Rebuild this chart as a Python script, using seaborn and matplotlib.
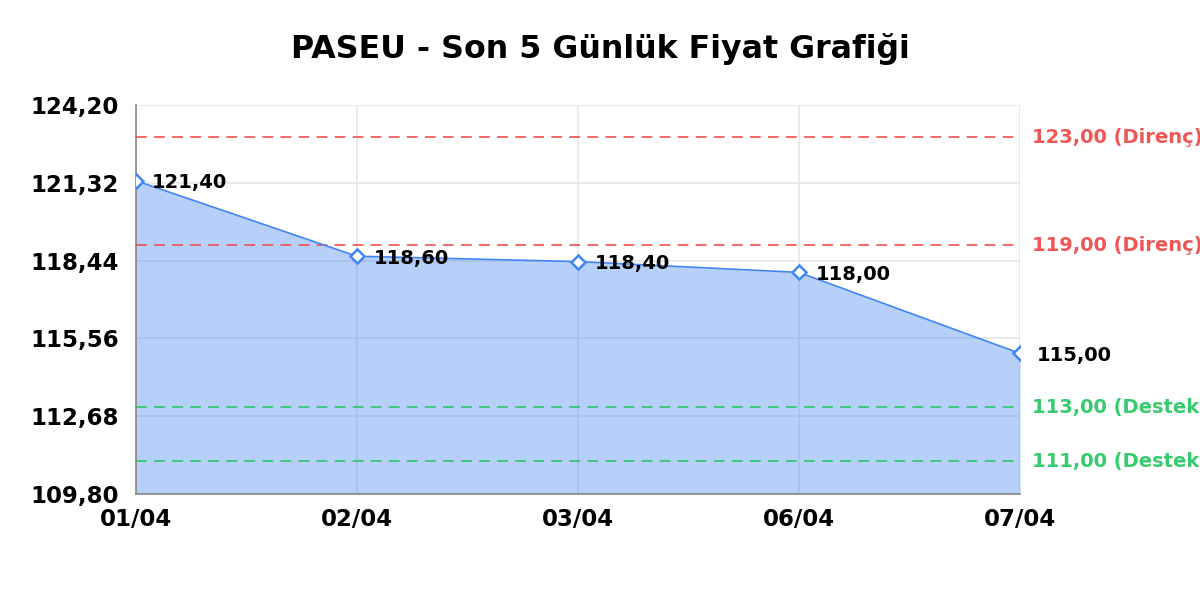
import matplotlib
matplotlib.use('Agg')
import matplotlib.pyplot as plt
import seaborn as sns
import pandas as pd

# Data
dates = ['01/04', '02/04', '03/04', '06/04', '07/04']
prices = [121.40, 118.60, 118.40, 118.00, 115.00]
y_ticks = [109.80, 112.68, 115.56, 118.44, 121.32, 124.20]
resistance = [123.00, 119.00]
support = [113.00, 111.00]

df = pd.DataFrame({'pos': range(len(dates)), 'price': prices})

sns.set_style('white')
plt.rcParams['font.family'] = ['DejaVu Sans']
plt.rcParams['text.color'] = 'black'
plt.rcParams['xtick.color'] = 'black'
plt.rcParams['ytick.color'] = 'black'

fig = plt.figure(figsize=(12, 6), dpi=100)
ax = fig.add_axes([0.113, 0.177, 0.737, 0.648])

blue = '#4285f4'
ax.fill_between(df['pos'], df['price'], y_ticks[0], color=blue, alpha=0.38, linewidth=0, zorder=2)
sns.lineplot(data=df, x='pos', y='price', ax=ax, color=blue, linewidth=1.2,
             marker='D', markersize=7, markerfacecolor='white',
             markeredgecolor=blue, markeredgewidth=1.8, zorder=4)

# value labels
for x, y in zip(df['pos'], df['price']):
    ax.annotate(f'{y:.2f}'.replace('.', ','), (x, y), xytext=(12, -1.5),
                textcoords='offset points', va='center', ha='left',
                fontsize=14, fontweight='bold', color='black', zorder=5)

# resistance / support lines
for lvl in resistance:
    ax.axhline(lvl, color='#ef4444', linestyle=(0, (6, 4)), linewidth=1.3, alpha=0.85, zorder=3)
    ax.text(1.014, lvl, f'{lvl:.2f}'.replace('.', ',') + ' (Direnç)', transform=ax.get_yaxis_transform(),
            va='center', ha='left', fontsize=14, fontweight='bold', color='#ef4444', alpha=0.9, clip_on=False)
for lvl in support:
    ax.axhline(lvl, color='#22c55e', linestyle=(0, (6, 4)), linewidth=1.3, alpha=0.85, zorder=3)
    ax.text(1.014, lvl, f'{lvl:.2f}'.replace('.', ',') + ' (Destek)', transform=ax.get_yaxis_transform(),
            va='center', ha='left', fontsize=14, fontweight='bold', color='#22c55e', alpha=0.9, clip_on=False)

ax.set_xlim(0, len(dates) - 1)
ax.set_ylim(y_ticks[0], y_ticks[-1])
ax.set_xticks(range(len(dates)))
ax.set_xticklabels(dates)
ax.set_yticks(y_ticks)
ax.set_yticklabels([f'{t:.2f}'.replace('.', ',') for t in y_ticks])
ax.tick_params(axis='both', length=0, labelsize=16.5)
ax.tick_params(axis='x', pad=10)
ax.tick_params(axis='y', pad=12)
for lbl in ax.get_xticklabels() + ax.get_yticklabels():
    lbl.set_fontweight('bold')
ax.set_xlabel('')
ax.set_ylabel('')

ax.grid(True, color='#e6e6e6', linewidth=1.2, zorder=1)
ax.set_axisbelow(True)
for side in ['top', 'right']:
    ax.spines[side].set_visible(False)
for side in ['left', 'bottom']:
    ax.spines[side].set_color('#888888')
    ax.spines[side].set_linewidth(1.2)

fig.suptitle('PASEU - Son 5 Günlük Fiyat Grafiği', fontsize=22.8, fontweight='bold',
             color='black', y=0.945)

fig.savefig('out.png', dpi=100)
